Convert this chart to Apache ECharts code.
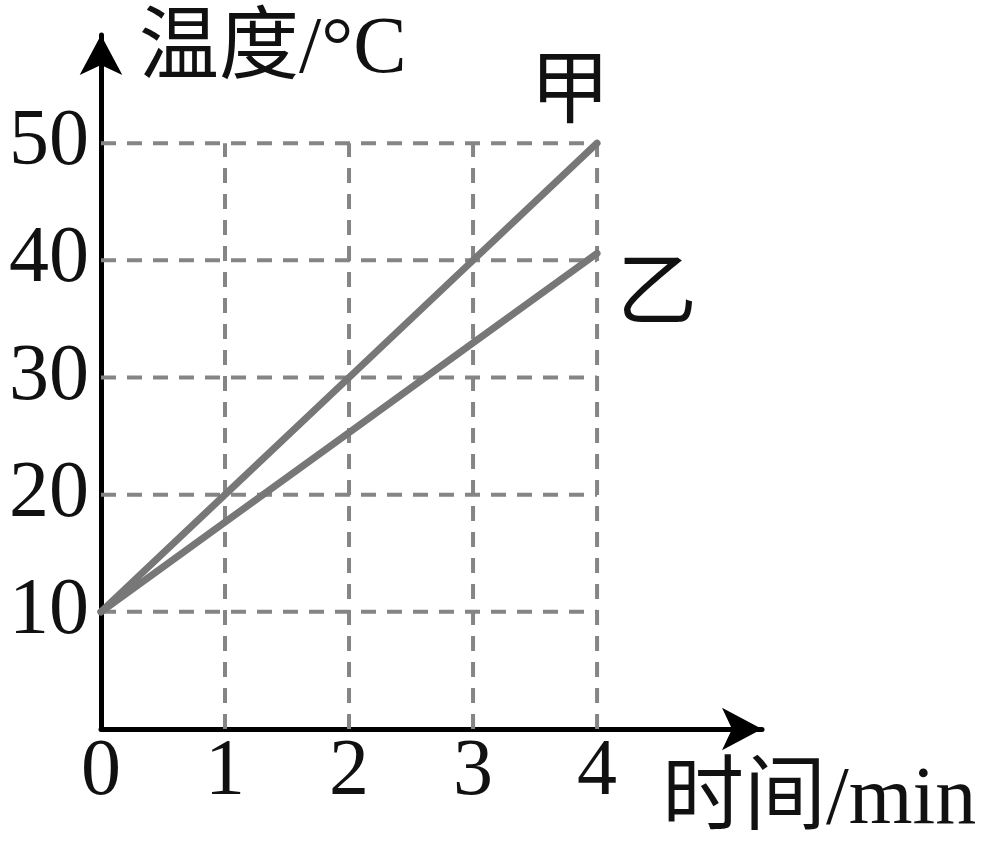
<!DOCTYPE html>
<html>
<head>
<meta charset="utf-8">
<script src="https://cdn.jsdelivr.net/npm/echarts@6/dist/echarts.min.js"></script>
<style>
html,body{margin:0;padding:0;background:#fff;}
#chart{width:988px;height:842px;}
</style>
</head>
<body>
<div id="chart"></div>
<script>
// ---- data ----
const timeMin = [0, 1, 2, 3, 4];
const jiaTemp = [10, 20, 30, 40, 50];
const yiTemp = [10, 17.65, 25.3, 32.95, 40.6];
const xTickLabels = [0, 1, 2, 3, 4];
const yTickLabels = [10, 20, 30, 40, 50];
const seriesNames = ['甲', '乙'];
const xAxisName = '时间/min';
const yAxisName = '温度/°C';

const FONT = '"Liberation Serif", "Noto Sans CJK SC", serif';
const xMaxTick = xTickLabels[xTickLabels.length - 1];
const yMaxTick = yTickLabels[yTickLabels.length - 1];

const gridStyle = { color: '#858585', width: 4, type: [15, 11] };
const gridSeries = [];
yTickLabels.forEach(v => {
  gridSeries.push({
    type: 'line', silent: true, symbol: 'none', z: 1,
    data: [[0, v], [xMaxTick, v]], lineStyle: gridStyle
  });
});
xTickLabels.filter(v => v > 0).forEach(v => {
  gridSeries.push({
    type: 'line', silent: true, symbol: 'none', z: 1,
    data: [[v, 0], [v, yMaxTick]], lineStyle: gridStyle
  });
});

const chart = echarts.init(document.getElementById('chart'));
chart.setOption({
  animation: false,
  backgroundColor: '#fff',
  grid: { left: 101, top: 35, right: 226, bottom: 111, containLabel: false },
  xAxis: {
    type: 'value', min: 0, max: 5.33, interval: 1,
    name: xAxisName, nameLocation: 'end', nameGap: -100,
    nameTextStyle: { fontFamily: FONT, fontSize: 82, color: '#111', align: 'left', verticalAlign: 'top', padding: [31, 0, 0, 0] },
    axisLine: { show: true, symbol: ['none', 'arrow'], symbolSize: [32, 40], lineStyle: { color: '#000', width: 5 } },
    axisTick: { show: false },
    splitLine: { show: false },
    axisLabel: {
      margin: 4, fontFamily: FONT, fontSize: 80, color: '#111', showMaxLabel: false,
      formatter: v => (xTickLabels.indexOf(v) >= 0 ? String(v) : '')
    }
  },
  yAxis: {
    type: 'value', min: 0, max: 59.23, interval: 10,
    name: yAxisName, nameLocation: 'end', nameGap: -16,
    nameTextStyle: { fontFamily: FONT, fontSize: 80, color: '#111', align: 'left', verticalAlign: 'middle', padding: [0, 0, 0, 38] },
    axisLine: { show: true, symbol: ['none', 'arrow'], symbolSize: [32, 40], lineStyle: { color: '#000', width: 5 } },
    axisTick: { show: false },
    splitLine: { show: false },
    axisLabel: {
      margin: 12, fontFamily: FONT, fontSize: 80, color: '#111', showMaxLabel: false,
      formatter: v => (yTickLabels.indexOf(v) >= 0 ? String(v) : '')
    }
  },
  series: gridSeries.concat([
    {
      name: seriesNames[0], type: 'line', symbol: 'none', z: 5,
      data: timeMin.map((t, i) => [t, jiaTemp[i]]),
      lineStyle: { color: '#777777', width: 7, cap: 'round' },
      endLabel: { show: true, formatter: '{a}', fontFamily: FONT, fontSize: 80, color: '#111',
        align: 'center', verticalAlign: 'middle', offset: [-35, -48] }
    },
    {
      name: seriesNames[1], type: 'line', symbol: 'none', z: 5,
      data: timeMin.map((t, i) => [t, yiTemp[i]]),
      lineStyle: { color: '#777777', width: 7, cap: 'round' },
      endLabel: { show: true, formatter: '{a}', fontFamily: FONT, fontSize: 80, color: '#111',
        align: 'center', verticalAlign: 'middle', offset: [52, 44] }
    }
  ])
});
</script>
</body>
</html>
